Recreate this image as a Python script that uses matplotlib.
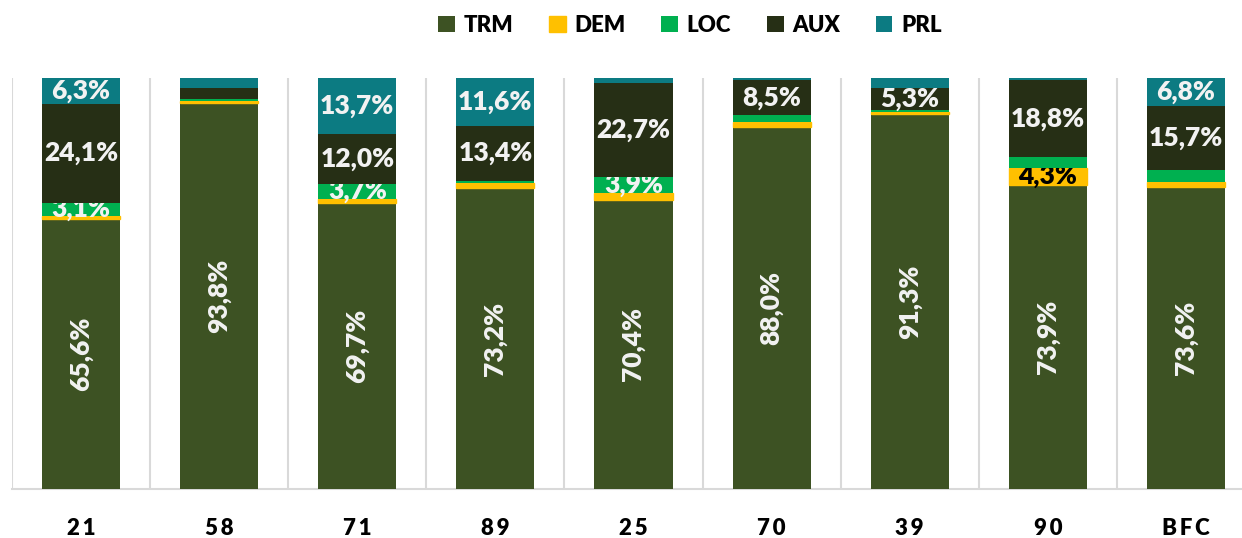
import numpy as np
import matplotlib.pyplot as plt

# categories and shares (%) per activity type
categories = ['21', '58', '71', '89', '25', '70', '39', '90', 'BFC']
series_names = ['TRM', 'DEM', 'LOC', 'AUX', 'PRL']
trm = [65.6, 93.8, 69.7, 73.2, 70.4, 88.0, 91.3, 73.9, 73.6]
dem = [0.9, 0.6, 0.9, 1.2, 1.7, 1.4, 0.4, 4.3, 1.2]
loc = [3.1, 0.6, 3.7, 0.6, 3.9, 1.6, 0.5, 2.5, 2.7]
aux = [24.1, 2.6, 12.0, 13.4, 22.7, 8.5, 5.3, 18.8, 15.7]
prl = [6.3, 2.4, 13.7, 11.6, 1.3, 0.5, 2.5, 0.5, 6.8]

colors = ['#3d5223', '#ffc000', '#00b050', '#262f15', '#0c7b82']
label_colors = ['#f2f2f2', '#000000', '#f2f2f2', '#f2f2f2', '#f2f2f2']

plt.rcParams['font.family'] = ['Lato', 'Open Sans', 'DejaVu Sans']
plt.rcParams['font.weight'] = 'heavy'

fig = plt.figure(figsize=(12.42, 5.38), dpi=100)
ax = fig.add_axes([12 / 1242, 49 / 538, 1243 / 1242, 411 / 538])

x = np.arange(len(categories))
bottom = np.zeros(len(categories))
data = [trm, dem, loc, aux, prl]
for name, vals, col, lcol in zip(series_names, data, colors, label_colors):
    vals = np.array(vals)
    lw = 1.0 if name == 'DEM' else 0
    bars = ax.bar(x, vals, 0.565, bottom=bottom, color=col, label=name,
                  edgecolor=col, linewidth=lw, zorder=3)
    labels = [f'{v:.1f}%'.replace('.', ',') if v >= 3 else '' for v in vals]
    ax.bar_label(bars, labels=labels, label_type='center', color=lcol,
                 fontsize=19, fontweight='heavy',
                 rotation=90 if name == 'TRM' else 0)
    bottom += vals

ax.set_xlim(-0.5, 8.5)
ax.set_ylim(0, 100)
ax.set_yticks([])
ax.set_xticks(x)
ax.set_xticklabels(['\u2009'.join(c) for c in categories], fontsize=16,
                   fontweight='heavy')
ax.tick_params(axis='x', length=0, pad=21)

# light separators between categories
ax.set_xticks(np.arange(-0.5, 9, 1), minor=True)
ax.tick_params(axis='x', which='minor', length=0)
ax.grid(axis='x', which='minor', color='#d9d9d9', linewidth=1.5, zorder=0)

for side in ['top', 'right', 'left']:
    ax.spines[side].set_visible(False)
ax.spines['bottom'].set_color('#d9d9d9')
ax.spines['bottom'].set_linewidth(1.5)

fig.legend(loc='center', bbox_to_anchor=(690 / 1242, 1 - 25 / 538), ncol=5,
           frameon=False, handlelength=0.75, handleheight=0.75,
           handletextpad=0.4, columnspacing=1.6,
           prop={'weight': 'heavy', 'size': 16})

fig.savefig('out.png', dpi=100)
